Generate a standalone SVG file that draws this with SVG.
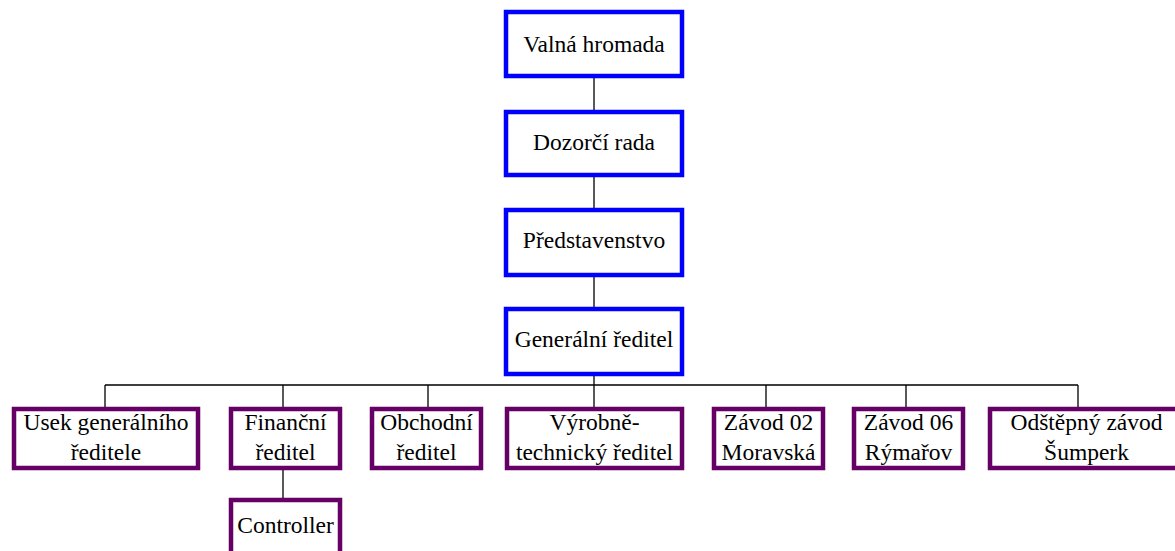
<svg xmlns="http://www.w3.org/2000/svg" width="1175" height="551" viewBox="0 0 1175 551">
<style>
.top{fill:#fff;stroke:#0000ff;stroke-width:4.5}
.bot{fill:#fff;stroke:#660066;stroke-width:4.5}
.t{font-family:"Liberation Serif","Times New Roman",serif;font-size:23.5px;fill:#000;text-anchor:middle}
.c{stroke:#000;stroke-width:1.3;fill:none}
</style>
<rect width="1175" height="551" fill="#fff"/>
<g id="connectors">
<path class="c" d="M594 78V110M594 177V208M594 277V307M594 376V407M105 385H1078M105 385V407M283 385V407M428 385V407M766 385V407M906 385V407M1078 385V407M283 470V498"/>
</g>
<g id="valna"><rect class="top" x="506" y="12" width="176" height="64"/><text class="t" x="594" y="52">Valná hromada</text></g>
<g id="dozorci"><rect class="top" x="506" y="112" width="176" height="63"/><text class="t" x="594" y="150">Dozorčí rada</text></g>
<g id="predstavenstvo"><rect class="top" x="506" y="210" width="176" height="65"/><text class="t" x="594" y="248">Představenstvo</text></g>
<g id="generalni"><rect class="top" x="506" y="309" width="176" height="65"/><text class="t" x="594" y="347">Generální ředitel</text></g>
<g id="usek"><rect class="bot" x="14" y="409" width="184" height="59"/><text class="t" x="106" y="430">Usek generálního</text><text class="t" x="106" y="460">ředitele</text></g>
<g id="financni"><rect class="bot" x="231" y="409" width="109" height="59"/><text class="t" x="285.5" y="430">Finanční</text><text class="t" x="285.5" y="460">ředitel</text></g>
<g id="obchodni"><rect class="bot" x="372" y="409" width="109" height="59"/><text class="t" x="426.5" y="430">Obchodní</text><text class="t" x="426.5" y="460">ředitel</text></g>
<g id="vyrobne"><rect class="bot" x="507" y="409" width="175" height="59"/><text class="t" x="594.5" y="430">Výrobně-</text><text class="t" x="594.5" y="460">technický ředitel</text></g>
<g id="zavod02"><rect class="bot" x="714" y="409" width="109" height="59"/><text class="t" x="768.5" y="430">Závod 02</text><text class="t" x="768.5" y="460">Moravská</text></g>
<g id="zavod06"><rect class="bot" x="854" y="409" width="109" height="59"/><text class="t" x="908.5" y="430">Závod 06</text><text class="t" x="908.5" y="460">Rýmařov</text></g>
<g id="sumperk"><rect class="bot" x="990" y="409" width="250" height="59"/><text class="t" x="1086.5" y="430">Odštěpný závod</text><text class="t" x="1086.5" y="460">Šumperk</text></g>
<g id="controller"><rect class="bot" x="231" y="500" width="109" height="80"/><text class="t" x="285.5" y="533">Controller</text></g>
</svg>
